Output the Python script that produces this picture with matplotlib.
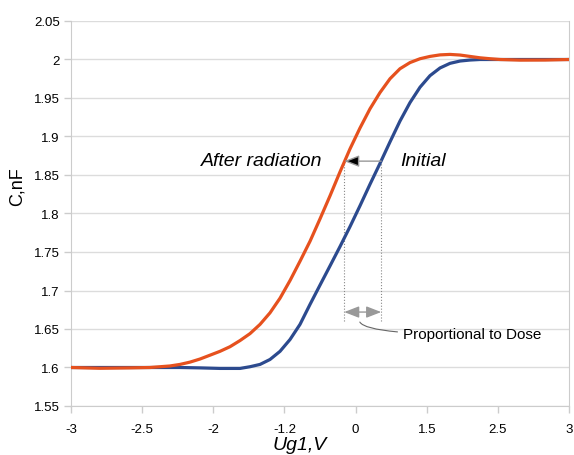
import matplotlib
matplotlib.use("Agg")
import matplotlib.pyplot as plt
from matplotlib.ticker import FuncFormatter

# category labels of the x axis (evenly spaced in the chart)
x_labels = ["-3", "-2.5", "-2", "-1.2", "0", "1.5", "2.5", "3"]
y_ticks = [1.55, 1.6, 1.65, 1.7, 1.75, 1.8, 1.85, 1.9, 1.95, 2.0, 2.05]

# curves, x given as position along the category axis
pos_initial = [0.0, 0.998, 1.532, 1.813, 2.094, 2.376, 2.516, 2.657, 2.797,
               2.938, 3.079, 3.219, 3.360, 3.500, 3.641, 3.781, 3.922, 4.062,
               4.203, 4.343, 4.484, 4.624, 4.765, 4.906, 5.046, 5.187, 5.327,
               5.468, 5.608, 5.749, 5.890, 7.0]
c_initial = [1.600, 1.600, 1.600, 1.5995, 1.5988, 1.5988, 1.601, 1.604, 1.6104,
             1.621, 1.6364, 1.656, 1.682, 1.707, 1.732, 1.757, 1.783, 1.810,
             1.838, 1.865, 1.893, 1.920, 1.944, 1.964, 1.979, 1.989, 1.995,
             1.998, 1.9993, 2.000, 2.000, 2.000]

pos_after = [0.0, 0.408, 0.829, 1.110, 1.392, 1.532, 1.673, 1.813, 1.954,
             2.094, 2.235, 2.376, 2.516, 2.657, 2.797, 2.938, 3.079, 3.219,
             3.360, 3.500, 3.641, 3.781, 3.922, 4.062, 4.203, 4.343, 4.484,
             4.624, 4.765, 4.906, 5.046, 5.187, 5.327, 5.468, 5.608, 5.749,
             5.890, 6.030, 6.311, 6.663, 7.0]
c_after = [1.600, 1.599, 1.5995, 1.600, 1.602, 1.604, 1.607, 1.611, 1.616,
           1.621, 1.627, 1.635, 1.644, 1.656, 1.671, 1.690, 1.713, 1.738,
           1.764, 1.793, 1.823, 1.854, 1.884, 1.911, 1.936, 1.957, 1.975,
           1.988, 1.996, 2.001, 2.004, 2.006, 2.0066, 2.0058, 2.004, 2.0022,
           2.001, 2.000, 1.9992, 1.9993, 2.000]

# shift marker: where the arrow meets both curves
shift_level = 1.868
shift_from = 4.36
shift_to = 3.84
dose_level = 1.672
dose_bottom = 1.661

plt.rcParams["font.family"] = ["Liberation Sans", "DejaVu Sans"]

fig = plt.figure(figsize=(5.74, 4.56), dpi=100)
ax = fig.add_axes([71 / 574, 1 - 407 / 456, (569 - 71) / 574, (407 - 22) / 456])

ax.plot(pos_initial, c_initial, color="#2c4a8e", lw=2.3, solid_joinstyle="round",
        solid_capstyle="round", zorder=3)
ax.plot(pos_after, c_after, color="#e6511e", lw=2.3, solid_joinstyle="round",
        solid_capstyle="round", zorder=4)

ax.set_xlim(0, len(x_labels) - 1)
ax.set_ylim(1.55, 2.05)
ax.set_xticks(range(len(x_labels)))
ax.set_xticklabels(x_labels)
ax.set_yticks(y_ticks)
ax.yaxis.set_major_formatter(FuncFormatter(lambda v, p: "%g" % round(v, 2)))
ax.tick_params(axis="x", length=5, width=1, color="#cccccc", pad=7, labelsize=9.5)
ax.tick_params(axis="y", length=5, width=1, color="#cccccc", pad=3, labelsize=9.5)
ax.grid(axis="y", color="#dcdcdc", lw=1)
ax.set_axisbelow(True)
for side in ["left", "bottom", "right"]:
    ax.spines[side].set_color("#cccccc")
ax.spines["top"].set_visible(False)

fig.text(17 / 574, 1 - 187 / 456, "C,nF", rotation=90, fontsize=13,
         ha="center", va="center")
fig.text(300 / 574, 1 - 450 / 456, "Ug1,V", fontsize=14, style="italic",
         ha="center", va="baseline")

# annotations
ax.text(1.83, shift_level - 0.0045, "After radiation", fontsize=14, style="italic",
        ha="left", va="baseline")
ax.text(4.63, shift_level - 0.0045, "Initial", fontsize=14, style="italic",
        ha="left", va="baseline")
ax.annotate("", xy=(shift_to, shift_level), xytext=(shift_from, shift_level),
            arrowprops=dict(arrowstyle="-|>,head_length=0.9,head_width=0.35",
                            ec="#999999", fc="black", lw=1, shrinkA=0, shrinkB=0),
            zorder=5)
for xv in [shift_to, shift_from]:
    ax.plot([xv, xv], [dose_bottom, shift_level], ls=":", color="#888888",
            lw=0.8, zorder=2)
ax.annotate("", xy=(shift_to, dose_level), xytext=(shift_from, dose_level),
            arrowprops=dict(arrowstyle="<|-|>,head_length=0.9,head_width=0.35",
                            ec="#999999", fc="#999999", lw=1, shrinkA=0, shrinkB=0),
            zorder=5)
ax.annotate("Proportional to Dose", xy=(4.06, 1.659), xytext=(4.667, 1.643),
            fontsize=11, ha="left", va="center",
            arrowprops=dict(arrowstyle="-", color="#666666", lw=0.8,
                            shrinkA=2, shrinkB=0,
                            connectionstyle="angle3,angleA=0,angleB=-60"))

fig.savefig("out.png", dpi=100)
